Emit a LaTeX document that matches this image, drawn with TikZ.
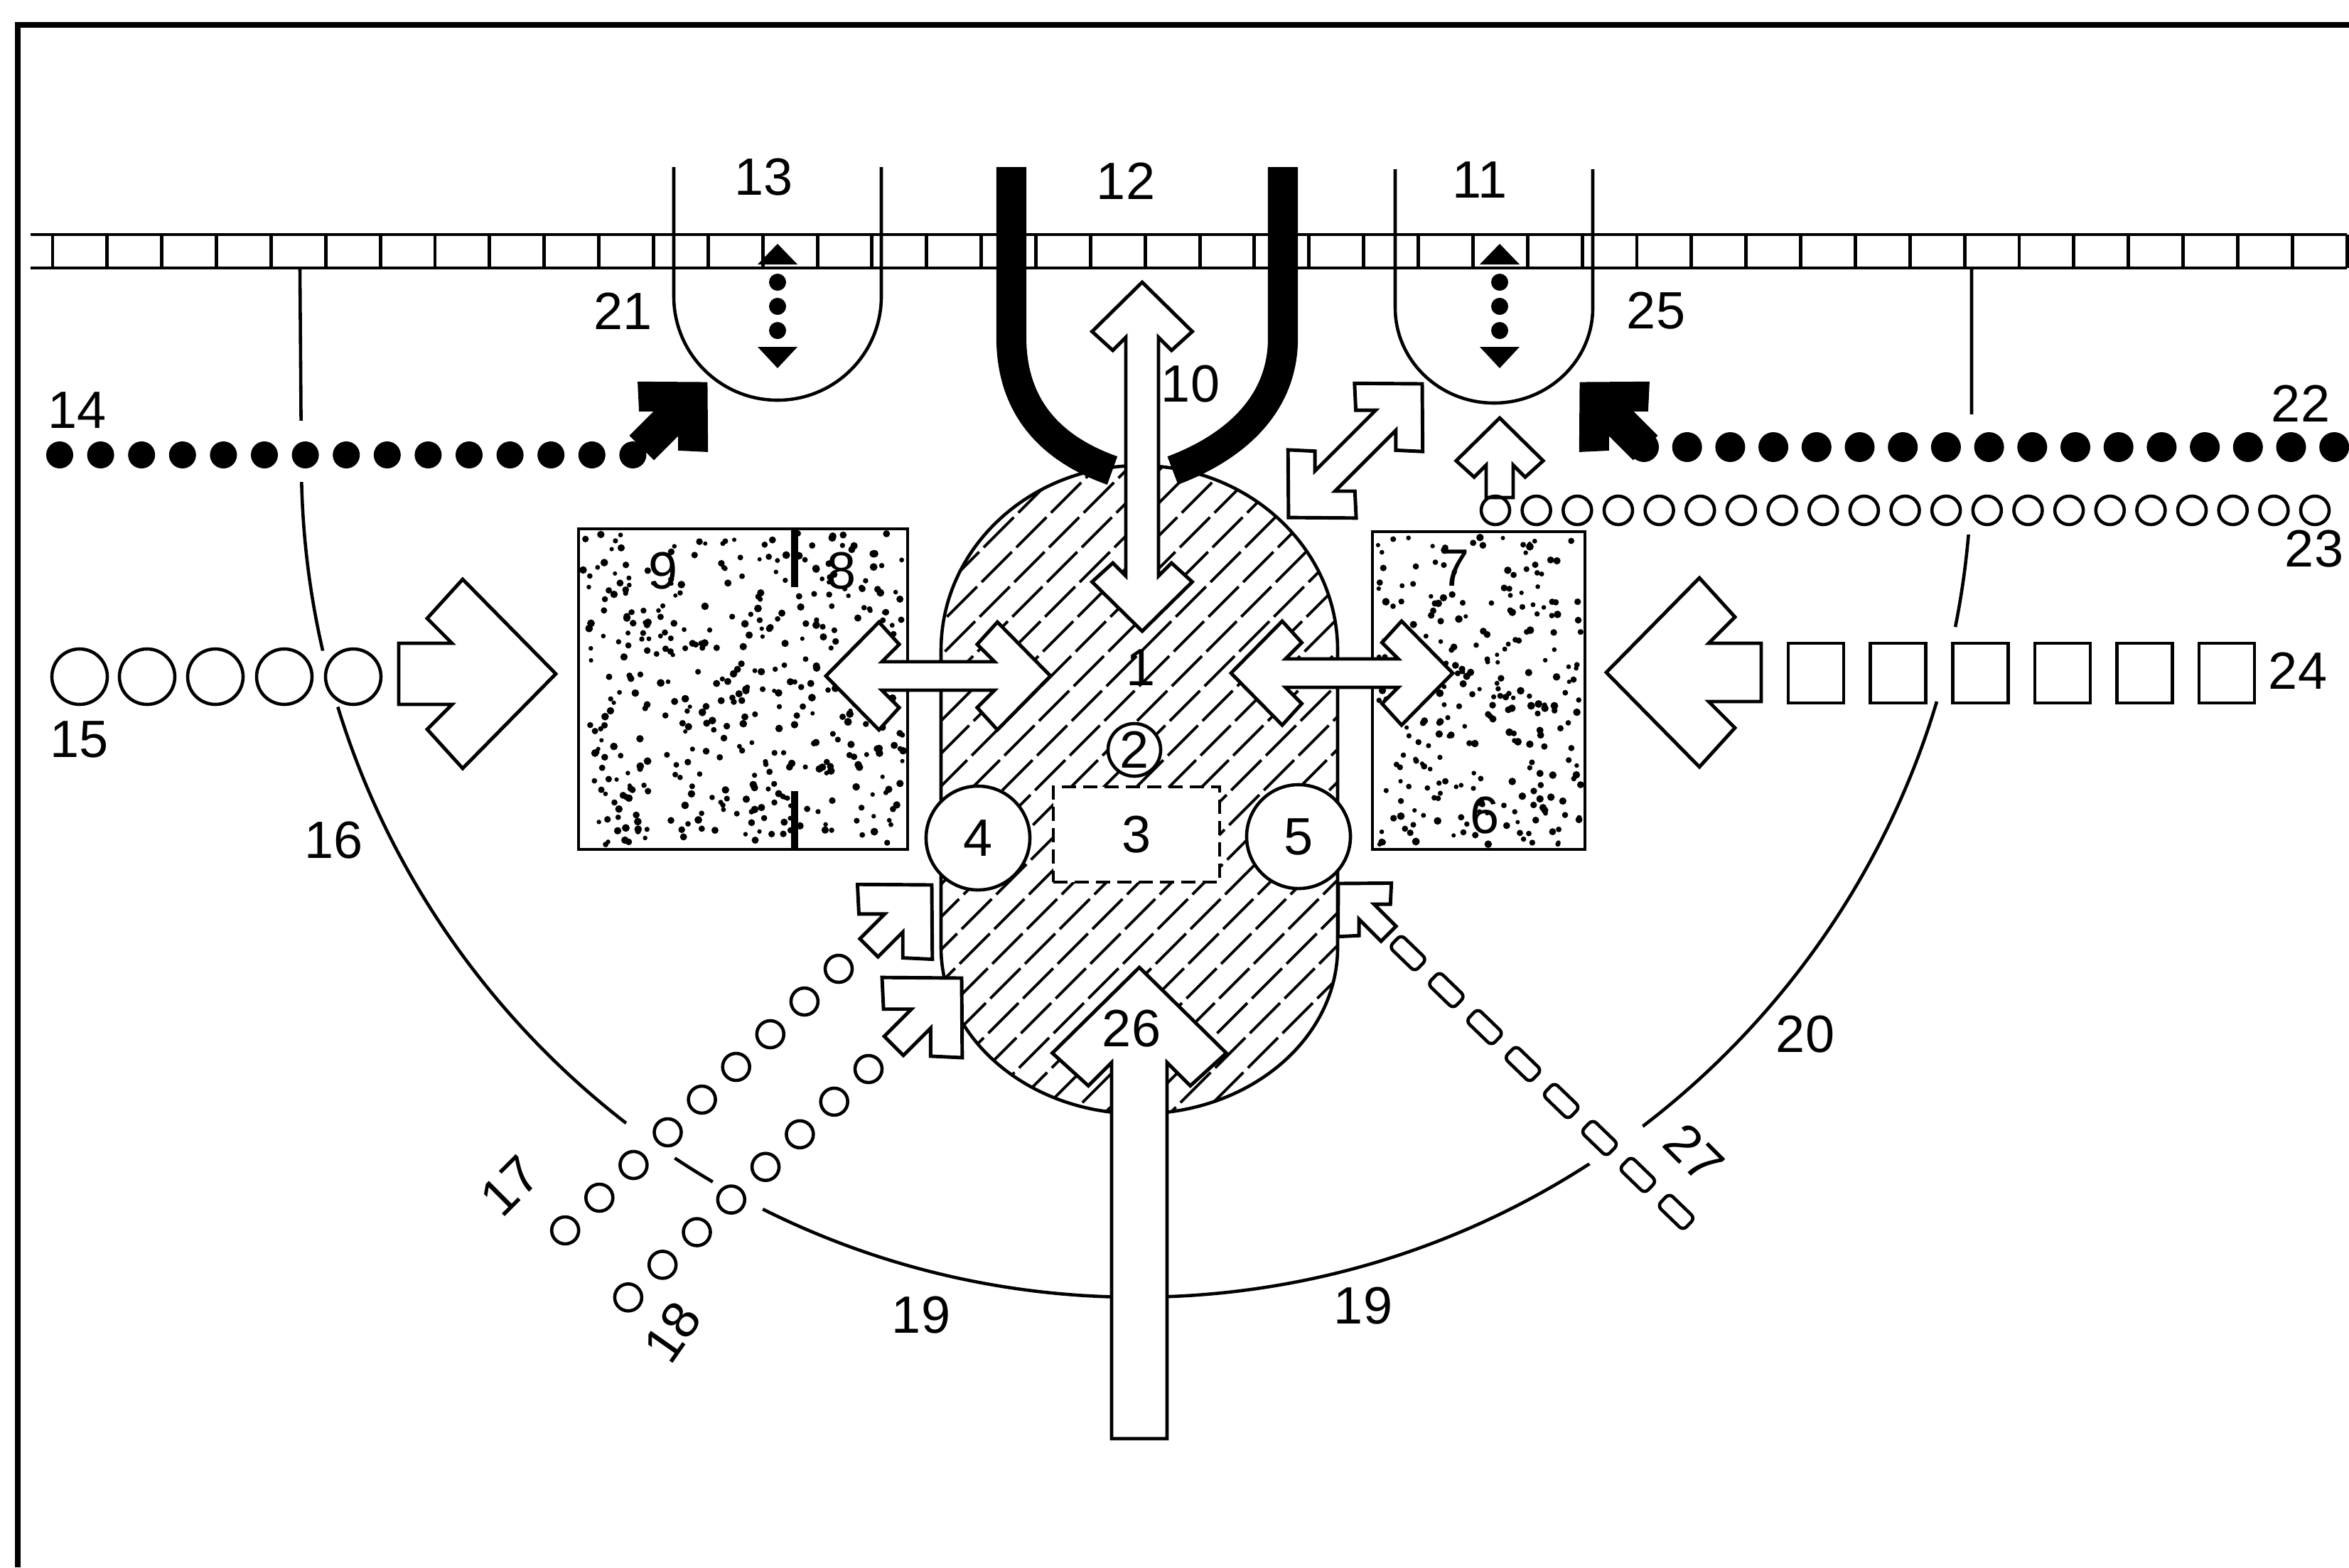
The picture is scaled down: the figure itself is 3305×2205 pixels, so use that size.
\documentclass[tikz,border=0pt]{standalone}
\usepackage{fontspec}
\setmainfont{Liberation Sans}
\usepackage{tikz}
\usetikzlibrary{calc}
\tikzstyle{frameline} = [line width=2pt]
\tikzstyle{memb} = [line width=1.4pt]
\tikzstyle{thinline} = [line width=1.3pt]
\tikzstyle{fatarr} = [draw, fill=white, line width=1.4pt, line join=miter]
\tikzstyle{blackarr} = [draw, fill=black, line width=1.4pt, line join=miter]
\tikzstyle{hatchline} = [line width=1.1pt, dash pattern=on 0.6cm off 0.09cm]
\tikzstyle{eraser} = [fill=white, draw=none]
\tikzstyle{lab} = [font=\fontsize{21}{25}\selectfont, inner sep=0pt]

% open fat arrow: [style]{tip}{angle}{length}{scale}{half shaft}
\newcommand{\fatarrow}[6][fatarr]{%
  \begin{scope}[shift={#2}, rotate=#3]
    \path[#1] (0,0) -- (-131*#5,133*#5) -- (-181*#5,78*#5) -- (-103*#5-#6,#6)
      -- (-#4,#6) -- (-#4,-#6) -- (-103*#5-#6,-#6) -- (-181*#5,-78*#5)
      -- (-131*#5,-133*#5) -- cycle;
  \end{scope}}
% two-headed version: {tip}{angle}{tip to tip}{scale}{half shaft}
\newcommand{\fatdouble}[6][fatarr]{%
  \begin{scope}[shift={#2}, rotate=#3]
    \path[#1] (0,0) -- (-131*#5,133*#5) -- (-181*#5,78*#5) -- (-103*#5-#6,#6)
      -- (-#4+103*#5+#6,#6) -- (-#4+181*#5,78*#5) -- (-#4+131*#5,133*#5) -- (-#4,0)
      -- (-#4+131*#5,-133*#5) -- (-#4+181*#5,-78*#5) -- (-#4+103*#5+#6,-#6)
      -- (-103*#5-#6,-#6) -- (-181*#5,-78*#5) -- (-131*#5,-133*#5) -- cycle;
  \end{scope}}
% dotted arrow in a vesicle
\newcommand{\vesarrow}[1]{%
  \fill (#1-28,372) -- (#1,343) -- (#1+28,372) -- cycle;
  \foreach \yy in {397,431,465} \fill (#1,\yy) circle[radius=12];
  \fill (#1-28,488) -- (#1,518) -- (#1+28,488) -- cycle;}

\begin{document}
\begin{tikzpicture}[x=0.01cm, y=-0.01cm]
\useasboundingbox (0,0) rectangle (3305,2205);
\pgfmathsetseed{17}

% Frame
\draw[frameline] (25,2205) -- (25,35) -- (3305,35);

% Membrane
\draw[memb] (43,330) -- (3302,330) (43,377) -- (3302,377);
\foreach \i in {0,...,42} \draw[memb] (74+76.86*\i,330) -- (74+76.86*\i,377);

% Outer boundary (16, 19, 20)
\draw[thinline] (422,377) -- (424,650) arc[start angle=180, end angle=0, radius=1175] -- (2774,379);
\fill[eraser] (395,592) rectangle (450,678);
\fill[eraser] (461,956) circle[radius=41];
\fill[eraser] (915,1605) circle[radius=42];
\fill[eraser] (1038,1682) circle[radius=40];
\fill[eraser] (2271,1607) circle[radius=46];
\fill[eraser] (2740,935) circle[radius=54];
\fill[eraser] (2745,583) rectangle (2805,752);

% Vesicles 13 and 11
\draw[thinline] (948,235) -- (948,417) arc[start angle=180, end angle=0, radius=146] -- (1240,235);
\draw[thinline] (1963,238) -- (1963,433) arc[start angle=180, end angle=0, x radius=139, y radius=134] -- (2241,238);
\vesarrow{1094}
\vesarrow{2110}

% Hatched body 1
\begin{scope}
  \clip (1324,915) arc[start angle=180, end angle=360, x radius=279, y radius=260]
    -- (1882,1333) arc[start angle=0, end angle=180, x radius=279, y radius=234] -- cycle;
  \foreach \k in {0,...,33} \draw[hatchline] (370+46*\k,1600) -- ++(1000,-1000);
\end{scope}
\draw[thinline] (1324,915) arc[start angle=180, end angle=360, x radius=279, y radius=260]
  -- (1882,1333) arc[start angle=0, end angle=180, x radius=279, y radius=234] -- cycle;

% Thick pit 12
\draw[line width=12pt] (1423,235) -- (1423,480) .. controls (1425,575) and (1480,632) .. (1565,662);
\draw[line width=12pt] (1805,235) -- (1805,480) .. controls (1803,575) and (1730,632) .. (1650,662);

% Stippled blocks 9/8 and 7/6
\foreach \i in {1,...,420} \fill (820+rnd*451,750+rnd*439) circle[radius=3+2.5*rnd];
\draw[thinline] (814,744) rectangle (1277,1195);
\draw[line width=2.6pt] (1118,744) -- (1118,826) (1118,1113) -- (1118,1195);
\foreach \i in {1,...,270} \fill (1937+rnd*287,754+rnd*435) circle[radius=3+2.5*rnd];
\draw[thinline] (1931,748) rectangle (2230,1195);

% Fat arrows
\fatarrow{(782,948)}{0}{221}{1}{43}
\fatarrow{(2260,946)}{180}{218}{1}{41}
\fatarrow{(1603,1361)}{90}{663}{0.92}{39}
\fatdouble{(1607,397)}{90}{491}{0.53}{23}
\fatdouble{(1478,951)}{0}{316}{0.57}{20}
\fatdouble{(2044,947)}{0}{312}{0.55}{20}
\fatdouble{(2001,540)}{45}{266}{0.51}{20}
\fatarrow{(2110,588)}{90}{112}{0.46}{19}
\fatarrow{(1311,1245)}{45}{125}{0.56}{18}
\fatarrow{(1353,1376)}{45}{135}{0.6}{19}
\fatarrow{(1883,1243)}{135}{100}{0.4}{15}
\fatarrow[blackarr]{(993,540)}{45}{125}{0.5}{22}
\fatarrow[blackarr]{(2225,540)}{135}{125}{0.5}{22}

% Inner parts 2-5
\node[lab, draw, thinline, fill=white, circle, minimum size=1.46cm] (c4) at (1376,1179) {4};
\node[lab, draw, thinline, fill=white, circle, minimum size=1.46cm] (c5) at (1827,1177) {5};
\node[lab, draw, thinline, fill=white, dash pattern=on 0.2cm off 0.1cm,
      minimum width=2.34cm, minimum height=1.34cm] (b3) at (1599,1174) {3};
\node[lab, draw, thinline, fill=white, circle, minimum size=0.74cm] (c2) at (1596,1055) {2};

% Rows of particles
\foreach \i in {0,...,14} \fill (84+57.6*\i,640) circle[radius=19];
\foreach \x in {112,207,303,400,497} \draw[thinline] (\x,952) circle[radius=39];
\foreach \i in {0,...,16} \fill (2313+60.7*\i,629) circle[radius=21];
\foreach \i in {0,...,20} \draw[thinline] (2104+57.65*\i,718) circle[radius=20];
\foreach \i in {0,...,5} \draw[thinline] (2516+115.6*\i,905) rectangle ++(78,84);
\foreach \i in {0,...,8} \draw[thinline] (1180-48.1*\i,1363+46*\i) circle[radius=19];
\foreach \i in {0,...,7} \draw[thinline] (1222-48.3*\i,1504+45.9*\i) circle[radius=19];
\foreach \i in {0,...,7}
  \node[draw, thinline, rounded corners=2pt, minimum width=0.5cm, minimum height=0.24cm,
        inner sep=0pt, rotate=-44] (q\i) at (1981+53.9*\i,1341+52*\i) {};

% Labels
\node[lab] (l1) at (1605,939) {1};
\node[lab] (l6) at (2089,1147) {6};
\node[lab] (l7) at (2047,799) {7};
\node[lab] (l8) at (1184,803) {8};
\node[lab] (l9) at (933,803) {9};
\node[lab] (l10) at (1675,540) {10};
\node[lab] (l11) at (2082,253) {11};
\node[lab] (l12) at (1584,255) {12};
\node[lab] (l13) at (1075,249) {13};
\node[lab] (l14) at (109,577) {14};
\node[lab] (l15) at (112,1040) {15};
\node[lab] (l16) at (470,1182) {16};
\node[lab, rotate=45] (l17) at (718,1668) {17};
\node[lab, rotate=55] (l18) at (946,1874) {18};
\node[lab] (l19a) at (1296,1850) {19};
\node[lab] (l19b) at (1918,1837) {19};
\node[lab] (l20) at (2540,1455) {20};
\node[lab] (l21) at (877,438) {21};
\node[lab] (l22) at (3237,568) {22};
\node[lab] (l23) at (3256,772) {23};
\node[lab] (l24) at (3233,944) {24};
\node[lab] (l25) at (2330,437) {25};
\node[lab] (l26) at (1592,1447) {26};
\node[lab, rotate=-45] (l27) at (2384,1622) {27};
\end{tikzpicture}
\end{document}
